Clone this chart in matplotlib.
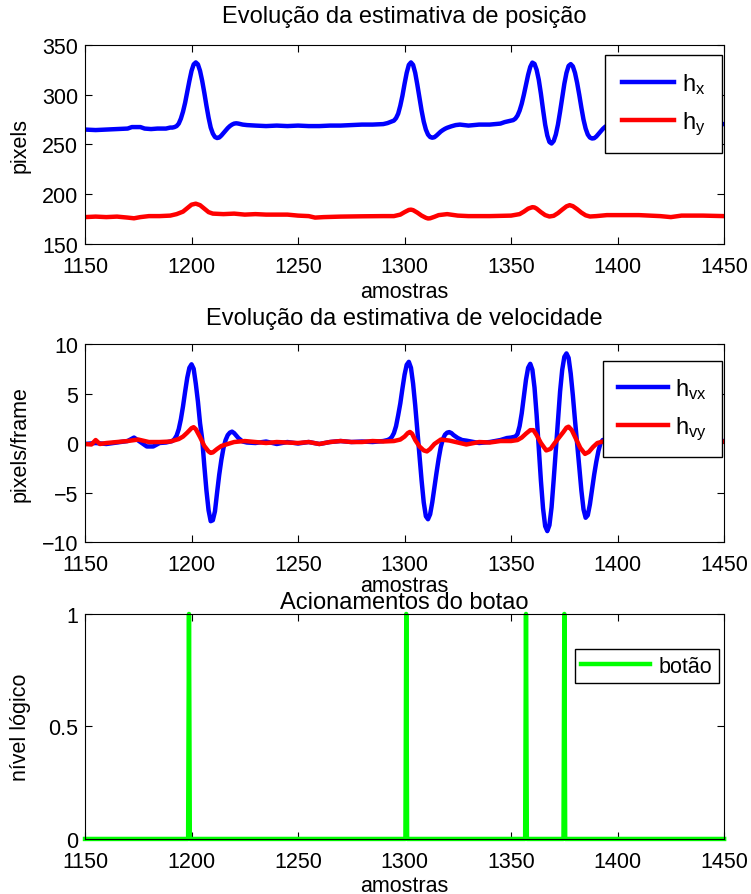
import numpy as np
import matplotlib
matplotlib.use('Agg')
import matplotlib.pyplot as plt

plt.rcParams['font.family'] = ['Liberation Sans', 'DejaVu Sans']
plt.rcParams['mathtext.fontset'] = 'custom'
plt.rcParams['mathtext.rm'] = 'Liberation Sans'
plt.rcParams['mathtext.it'] = 'Liberation Sans'
plt.rcParams['mathtext.default'] = 'regular'

### posicao (pixels)
hx_x = [1150, 1155, 1160, 1165, 1170, 1172, 1176, 1178, 1181, 1184, 1188,
        1190, 1191, 1192, 1193, 1194, 1195, 1196, 1197, 1198, 1199, 1200, 1201, 1202, 1203, 1204,
        1205, 1206, 1207, 1208, 1209, 1210, 1211, 1212, 1213, 1214, 1215, 1216, 1217, 1218, 1219,
        1220, 1221, 1222, 1224, 1226,
        1230, 1235, 1240, 1245, 1250, 1255, 1260, 1265, 1270, 1275, 1280, 1285,
        1290, 1292, 1293, 1294, 1295, 1296, 1297, 1298, 1299, 1300, 1301, 1302, 1303, 1304, 1305,
        1306, 1307, 1308, 1309, 1310, 1311, 1312, 1313, 1314, 1315, 1316, 1317, 1318, 1319, 1320,
        1322, 1324, 1326, 1330, 1335, 1340,
        1345, 1347, 1349, 1351, 1352, 1353, 1354, 1355, 1356, 1357, 1358, 1359, 1360, 1361, 1362,
        1363, 1364, 1365, 1366, 1367, 1368, 1369, 1370, 1371, 1372, 1373, 1374, 1375, 1376, 1377,
        1378, 1379, 1380, 1381, 1382, 1383, 1384, 1385, 1386, 1387, 1388, 1389, 1390, 1391, 1392,
        1393, 1394, 1395, 1397, 1400, 1410, 1420, 1430, 1440, 1450]
hx = [265, 264.5, 265, 265.5, 266, 267.5, 267.5, 266, 265.5, 266, 266,
      267, 267, 267.5, 268.5, 271, 276, 283, 292, 303, 314, 324, 330.5, 332.5, 330.5, 324,
      314, 302, 289, 277, 267, 261, 257.5, 256.5, 257, 259, 261.5, 264, 266.5, 268.5, 270,
      271, 271.3, 271, 270, 269.5,
      269, 268.5, 269, 268.5, 269, 268.5, 268.5, 269, 269, 269.5, 270, 270,
      270.5, 271.5, 272.3, 273, 274, 276.5, 281, 289, 299, 311, 322, 330, 332.5, 330, 322,
      310, 297, 284, 273, 265, 260, 257.5, 256.8, 257.3, 259, 261, 263, 264.5, 265.8, 266.8,
      268.3, 269.5, 270, 269, 270, 270,
      271, 272.5, 273.5, 274.5, 276, 279, 284, 291, 300, 310, 320, 328, 332.3, 331, 325,
      315, 301, 285, 270, 259, 252.5, 251, 253.5, 260, 270, 283, 297, 311, 322, 329,
      330.8, 328.5, 322, 312, 300, 287, 275, 266, 260, 257, 256, 256.3, 258, 260.5, 263,
      265.5, 267.5, 269, 270.5, 271, 270.5, 270.5, 270.5, 270.5, 270.5]

hy_x = [1150, 1155, 1160, 1165, 1170, 1173, 1176, 1180, 1185, 1190, 1193, 1196, 1198, 1200, 1202,
        1204, 1206, 1208, 1210, 1215, 1220, 1225, 1230, 1235, 1240, 1245, 1250, 1255, 1258, 1262,
        1270, 1280, 1290, 1295, 1298, 1300, 1302, 1303, 1304, 1306, 1308, 1310, 1311, 1312, 1314,
        1316, 1320, 1325, 1330, 1340, 1350, 1354, 1356, 1358, 1360, 1361, 1362, 1364, 1366, 1368,
        1370, 1372, 1374, 1376, 1377.5, 1379, 1381, 1383, 1385, 1387, 1390, 1395, 1400, 1410, 1420,
        1425, 1430, 1440, 1450]
hy = [177, 177.5, 177, 177.5, 176.5, 175.8, 177, 178, 178, 178.5, 180, 182.5, 186, 189.5, 190.5,
      189, 185.5, 182, 180.5, 180, 180.5, 179.5, 180, 179.5, 179.5, 179.5, 178.5, 178, 176.5, 177,
      177.5, 177.8, 178, 178, 179.5, 182, 184.2, 184.5, 184, 181.5, 178.5, 176.3, 175.6, 175.8, 177.3,
      179, 180, 178.5, 178, 178, 178.5, 180, 182.5, 185.5, 187, 186.7, 185.5, 182, 179, 177.6,
      178.3, 181, 184.5, 187.8, 189, 188, 185, 181.5, 178.8, 177.6, 178, 179, 179, 179, 178,
      177, 178.5, 178.5, 178]

### velocidade (pixels/frame)
hvx_x = [1150, 1155, 1160, 1165, 1170, 1173, 1176, 1179, 1182, 1185, 1188,
         1190, 1191, 1192, 1193, 1194, 1195, 1196, 1197, 1198, 1199, 1200, 1201, 1202, 1203, 1204,
         1205, 1206, 1207, 1208, 1209, 1210, 1211, 1212, 1213, 1214, 1215, 1216, 1217, 1218, 1219,
         1220, 1221, 1222, 1224, 1226,
         1230, 1235, 1240, 1245, 1250, 1255, 1260, 1265, 1270, 1275, 1280, 1285,
         1290, 1292, 1293, 1294, 1295, 1296, 1297, 1298, 1299, 1300, 1301, 1302, 1303, 1304, 1305,
         1306, 1307, 1308, 1309, 1310, 1311, 1312, 1313, 1314, 1315, 1316, 1317, 1318, 1319, 1320,
         1321, 1322, 1323, 1325, 1327, 1329, 1335, 1340,
         1345, 1348, 1350, 1352, 1353, 1354, 1355, 1356, 1357, 1358, 1359, 1360, 1361, 1362, 1363,
         1364, 1365, 1366, 1367, 1368, 1369, 1370, 1371, 1372, 1373, 1374, 1375, 1376, 1377, 1378,
         1379, 1380, 1381, 1382, 1383, 1384, 1385, 1386, 1387, 1388, 1389, 1390, 1391, 1392, 1393,
         1395, 1397, 1400, 1405, 1410, 1415, 1420, 1425, 1430, 1435, 1440, 1445, 1450]
hvx = [-0.1, 0, -0.1, 0.05, 0.2, 0.55, 0.1, -0.35, -0.35, 0, 0.05,
       0.15, 0.2, 0.4, 0.75, 1.4, 2.4, 3.7, 5.2, 6.6, 7.6, 7.95, 7.5, 6.0, 4.2, 2.0,
       0.4, -2.3, -4.8, -6.8, -7.9, -7.8, -6.9, -5.0, -3.2, -1.7, -0.5, 0.3, 0.8, 1.05, 1.15,
       1.0, 0.75, 0.5, 0.15, 0.05,
       0, 0.15, -0.1, 0.1, -0.05, 0.1, -0.1, 0.1, 0.2, 0.1, 0.15, 0.1,
       0.2, 0.3, 0.4, 0.6, 1.0, 1.7, 2.8, 4.0, 5.5, 6.9, 7.9, 8.2, 7.6, 6.0, 3.8,
       1.3, -1.2, -3.8, -6.0, -7.4, -7.7, -7.2, -6.0, -4.5, -3.0, -1.6, -0.4, 0.4, 0.85, 1.05,
       1.1, 1.0, 0.8, 0.5, 0.3, 0.24, 0, 0.1,
       0.3, 0.5, 0.55, 0.65, 0.9, 1.7, 3.0, 4.7, 6.4, 7.6, 8.0, 7.4, 5.6, 2.8, -0.5,
       -3.8, -6.6, -8.4, -8.9, -8.3, -6.5, -3.7, -0.7, 2.4, 5.2, 7.4, 8.7, 9.05, 8.6, 7.0,
       4.8, 2.3, 0, -2.4, -4.8, -6.7, -7.55, -7.3, -6.2, -4.7, -3.2, -1.9, -0.8, 0, 0.3,
       0.35, 0.25, 0.2, 0, 0.1, 0.2, -0.05, 0.3, 0.1, 0.2, 0, 0.2, 0.2]

hvy_x = [1150, 1153, 1155, 1157, 1160, 1165, 1170, 1175, 1180, 1185, 1190, 1194, 1196, 1198, 1200,
         1201, 1202, 1204, 1206, 1208, 1209, 1210, 1212, 1214, 1217, 1220, 1225, 1230, 1235, 1240,
         1245, 1250, 1255, 1260, 1265, 1270, 1275, 1280, 1285, 1290, 1295, 1298, 1300, 1301.5, 1302.5,
         1303.5, 1305, 1307, 1309, 1310.5, 1312, 1314, 1317, 1321, 1325, 1329, 1335, 1340, 1345, 1350,
         1353, 1355, 1357, 1359, 1360.5, 1362, 1364, 1366.5, 1368.5, 1370.5, 1372.5, 1374.5, 1376, 1377,
         1378.5, 1380.5, 1382.5, 1384.7, 1386.5, 1388.5, 1390.5, 1394, 1400, 1405, 1410, 1415, 1420,
         1425, 1430, 1435, 1440, 1445, 1450]
hvy = [-0.1, -0.15, 0.3, -0.1, 0, 0.1, 0.2, 0.35, 0.1, 0.1, 0.15, 0.4, 0.65, 1.05, 1.5,
       1.6, 1.4, 0.6, -0.3, -0.85, -1.0, -0.95, -0.6, -0.3, -0.1, 0.1, 0.2, 0.1, 0, 0.1,
       0.05, 0, 0.1, -0.1, 0.1, 0.2, 0.1, 0.1, 0.2, 0.15, 0.2, 0.35, 0.65, 1.0, 1.12,
       0.95, 0.3, -0.35, -0.75, -0.85, -0.6, -0.1, 0.35, 0.25, 0.05, -0.15, 0.1, 0.05, 0.2, 0.2,
       0.3, 0.55, 0.95, 1.3, 1.3, 0.8, 0, -0.75, -0.6, 0, 0.55, 1.1, 1.55, 1.65,
       1.3, 0.4, -0.5, -1.1, -0.9, -0.4, 0, 0.2, 0.1, 0.2, 0.15, 0.1, 0.2,
       0.1, 0.15, 0.1, 0.2, 0.1, 0.15]

### botao
btn_x = [1150, 1198.4, 1198.8, 1199.2, 1300.4, 1300.8, 1301.2, 1356.6, 1357.0, 1357.4,
         1374.6, 1375.0, 1375.4, 1450]
btn_y = [0, 0, 1, 0, 0, 1, 0, 0, 1, 0, 0, 1, 0, 0]

xticks = [1150, 1200, 1250, 1300, 1350, 1400, 1450]

fs = 15.5
tfs = 17
lfs = 17
lw = 3.2

fig = plt.figure(figsize=(7.51, 8.95), dpi=100)
ax1 = fig.add_axes([0.1132, 0.7263, 0.851, 0.2223])
ax2 = fig.add_axes([0.1132, 0.3933, 0.851, 0.2212])
ax3 = fig.add_axes([0.1132, 0.0615, 0.851, 0.2514])


def style(ax, xpad):
    ax.set_xlim(1150, 1450)
    ax.set_xticks(xticks)
    ax.tick_params(direction='in', top=True, right=True, length=5, width=0.8,
                   labelsize=fs)
    ax.tick_params(axis='x', pad=8.5)
    ax.tick_params(axis='y', pad=5)
    for s in ax.spines.values():
        s.set_linewidth(0.8)
    ax.set_xlabel('amostras', fontsize=fs, labelpad=xpad)
    ax.yaxis.set_label_coords(-0.085, 0.5)


def legend(ax, anchor, **kw):
    leg = ax.legend(loc='upper right', bbox_to_anchor=anchor, fancybox=False,
                    framealpha=1, edgecolor='black', borderaxespad=0, **kw)
    leg.get_frame().set_linewidth(1.0)
    return leg


ax1.plot(hx_x, hx, color='#0000ff', lw=lw, label='$h_x$')
ax1.plot(hy_x, hy, color='#ff0000', lw=lw, label='$h_y$')
style(ax1, 3)
ax1.set_ylim(150, 350)
ax1.set_yticks([150, 200, 250, 300, 350])
ax1.set_ylabel('pixels', fontsize=fs)
ax1.set_title('Evolução da estimativa de posição', fontsize=tfs, pad=16.5)
legend(ax1, (0.997, 0.95), fontsize=lfs, handlelength=2.2, labelspacing=0.55,
       borderpad=0.7, handletextpad=0.35)

ax2.plot(hvx_x, hvx, color='#0000ff', lw=lw, label='$h_{vx}$')
ax2.plot(hvy_x, hvy, color='#ff0000', lw=lw, label='$h_{vy}$')
style(ax2, 0)
ax2.set_ylim(-10, 10)
ax2.set_yticks([-10, -5, 0, 5, 10])
ax2.set_ylabel('pixels/frame', fontsize=fs)
ax2.set_title('Evolução da estimativa de velocidade', fontsize=tfs, pad=14.5)
legend(ax2, (0.997, 0.914), fontsize=lfs, handlelength=2.1, labelspacing=0.55,
       borderpad=0.65, handletextpad=0.3)

ax3.plot(btn_x, btn_y, color='#00ff00', lw=lw, label='botão', clip_on=False)
style(ax3, 2)
ax3.set_ylim(0, 1)
ax3.set_yticks([0, 0.5, 1])
ax3.set_yticklabels(['0', '0.5', '1'])
ax3.set_ylabel('nível lógico', fontsize=fs)
ax3.set_title('Acionamentos do botao', fontsize=tfs, pad=4.5)
legend(ax3, (0.992, 0.844), fontsize=fs, handlelength=3.2, borderpad=0.3,
       handletextpad=0.4)

plt.savefig('out.png', dpi=100)
